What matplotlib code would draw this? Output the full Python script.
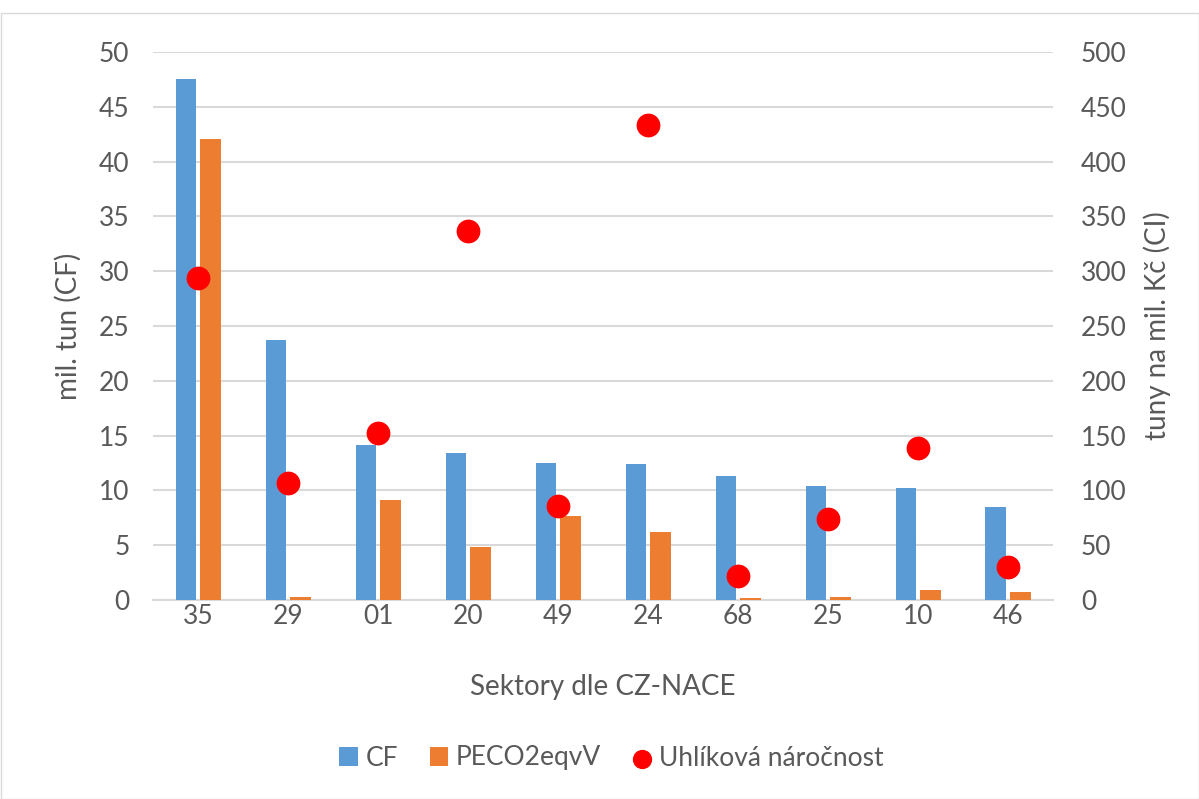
import numpy as np
import matplotlib.pyplot as plt

sectors = ["35", "29", "01", "20", "49", "24", "68", "25", "10", "46"]
cf = [47.5, 23.7, 14.1, 13.4, 12.5, 12.4, 11.3, 10.4, 10.2, 8.5]
peco2 = [42.1, 0.3, 9.1, 4.8, 7.7, 6.2, 0.15, 0.3, 0.95, 0.75]
carbon_int = [294, 107, 152, 337, 86, 433, 22, 74, 139, 30]

plt.rcParams['font.family'] = ['Lato', 'DejaVu Sans']
txt = "#595959"

fig = plt.figure(figsize=(11.99, 7.99), dpi=100)
ax = fig.add_axes([153 / 1199, 1 - 600 / 799, 900 / 1199, 548 / 799])
ax2 = ax.twinx()

x = np.arange(len(sectors))
w = 0.225
ax.bar(x - 0.025 - w / 2, cf, w, color="#5B9BD5", label="CF", zorder=3)
ax.bar(x + 0.025 + w / 2, peco2, w, color="#ED7D31", label="PECO2eqvV", zorder=3)
ax2.scatter(x, carbon_int, s=260, color="#FF0000", label="Uhlíková náročnost", zorder=4)

ax.set_xlim(-0.5, len(sectors) - 0.5)
ax.set_ylim(0, 50)
ax2.set_ylim(0, 500)
ax.set_yticks(np.arange(0, 51, 5))
ax2.set_yticks(np.arange(0, 501, 50))
ax.set_xticks(x)
ax.set_xticklabels(sectors)
ax.grid(axis="y", color="#D9D9D9", linewidth=1.5, zorder=0)
ax.set_axisbelow(True)

for a in (ax, ax2):
    for s in a.spines.values():
        s.set_visible(False)
    a.tick_params(length=0, labelsize=19, colors=txt)
ax.tick_params(axis="y", pad=17)
ax2.tick_params(axis="y", pad=20)
ax.tick_params(axis="x", pad=3)
ax.spines["bottom"].set_visible(True)
ax.spines["bottom"].set_color("#D9D9D9")
ax.spines["bottom"].set_linewidth(1.5)

ax.set_ylabel("mil. tun (CF)", fontsize=20, color=txt, labelpad=12)
ax2.set_ylabel("tuny na mil. Kč (CI)", fontsize=20, color=txt, labelpad=12)
ax.set_xlabel("Sektory dle CZ-NACE", fontsize=20, color=txt, labelpad=32)

h1, l1 = ax.get_legend_handles_labels()
h2, l2 = ax2.get_legend_handles_labels()
fig.legend(h1 + h2, l1 + l2, loc="center", bbox_to_anchor=(0.51, 1 - 758 / 799),
           ncol=3, frameon=False, fontsize=19, labelcolor=txt,
           handlelength=0.7, handleheight=0.7, handletextpad=0.3, columnspacing=1.2,
           markerscale=0.8)

fig.patches.append(plt.Rectangle((0.5 / 1199, 0.5 / 799), 1 - 1 / 1199, 1 - 13 / 799,
                                 transform=fig.transFigure, fill=False,
                                 edgecolor="#D9D9D9", linewidth=1))

fig.savefig("out.png", dpi=100)
